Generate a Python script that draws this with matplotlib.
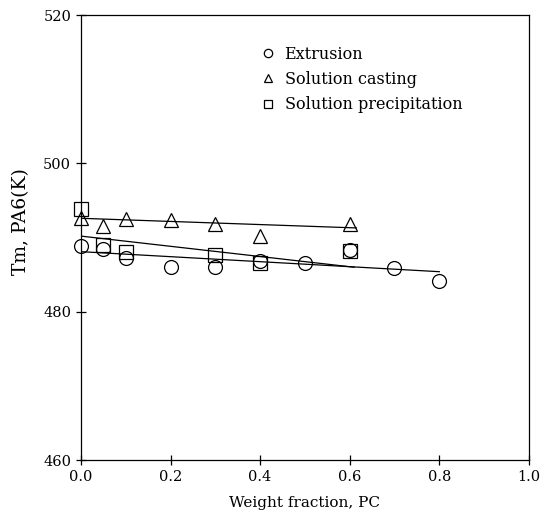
import matplotlib
matplotlib.use("Agg")
import matplotlib.pyplot as plt

plt.rcParams["font.family"] = ["DejaVu Serif"]

# melting point of PA6 against PC weight fraction
ext_x = [0.0, 0.05, 0.1, 0.2, 0.3, 0.4, 0.5, 0.6, 0.7, 0.8]
ext_tm = [488.9, 488.4, 487.3, 486.0, 486.0, 486.9, 486.6, 488.3, 485.9, 484.1]

cast_x = [0.0, 0.05, 0.1, 0.2, 0.3, 0.4, 0.6]
cast_tm = [492.7, 491.6, 492.5, 492.4, 491.8, 490.2, 491.8]

prec_x = [0.0, 0.05, 0.1, 0.3, 0.4, 0.6]
prec_tm = [493.8, 489.0, 488.0, 487.7, 486.6, 488.2]

# linear fits (end points)
ext_fit_x = [0.0, 0.8]
ext_fit_tm = [488.1, 485.4]
cast_fit_x = [0.0, 0.615]
cast_fit_tm = [492.6, 491.3]
prec_fit_x = [0.0, 0.61]
prec_fit_tm = [490.2, 486.0]

x_ticks = [0.0, 0.2, 0.4, 0.6, 0.8, 1.0]
y_ticks = [460, 480, 500, 520]

fig = plt.figure(figsize=(5.43, 5.21), dpi=100)
ax = fig.add_axes([0.149, 0.117, 0.825, 0.854])

ax.plot(ext_fit_x, ext_fit_tm, color="black", lw=0.9)
ax.plot(cast_fit_x, cast_fit_tm, color="black", lw=0.9)
ax.plot(prec_fit_x, prec_fit_tm, color="black", lw=0.9)

ax.plot(ext_x, ext_tm, "o", ms=10, mfc="none", mec="black", mew=0.9,
        label="Extrusion", clip_on=False)
ax.plot(cast_x, cast_tm, "^", ms=9.5, mfc="none", mec="black", mew=0.9,
        label="Solution casting", clip_on=False)
ax.plot(prec_x, prec_tm, "s", ms=10, mfc="none", mec="black", mew=0.9,
        label="Solution precipitation", clip_on=False)

ax.set_xlim(0, 1.0)
ax.set_ylim(460, 520)
ax.set_xticks(x_ticks)
ax.set_xticklabels([f"{t:.1f}" for t in x_ticks])
ax.set_yticks(y_ticks)
ax.tick_params(direction="inout", length=7, width=0.9, labelsize=10.5,
               top=False, right=False)
for s in ax.spines.values():
    s.set_linewidth(0.9)

ax.set_xlabel("Weight fraction, PC", fontsize=11, labelpad=9)
ax.set_ylabel("Tm, PA6(K)", fontsize=13.5)
ax.yaxis.set_label_coords(-0.114, 0.537)

ax.legend(loc="upper left", bbox_to_anchor=(0.385, 0.946), frameon=False,
          fontsize=11.5, markerscale=0.6, handlelength=1.0,
          handletextpad=0.55, labelspacing=0.52, borderaxespad=0)

fig.savefig("out.png", dpi=100)
